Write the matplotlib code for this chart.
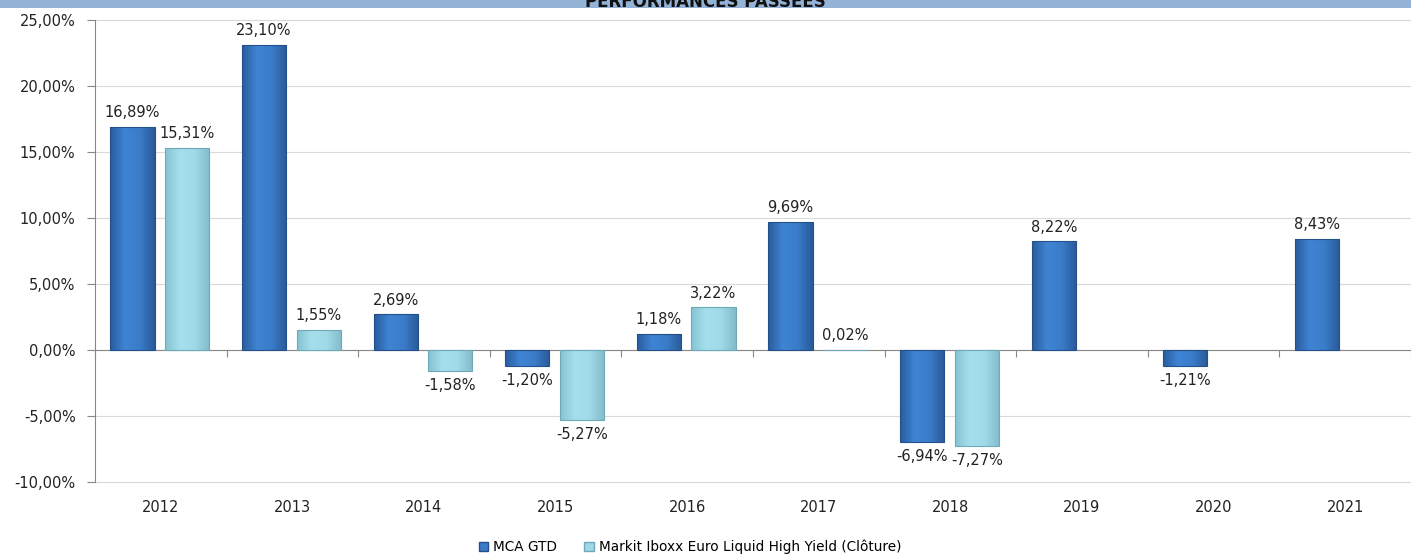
import numpy as np
import matplotlib
matplotlib.use('Agg')
from matplotlib import pyplot as plt
from matplotlib.patches import Rectangle
from matplotlib.colors import LinearSegmentedColormap

# data
years = ['2012', '2013', '2014', '2015', '2016', '2017', '2018', '2019', '2020', '2021']
mca = [16.89, 23.10, 2.69, -1.20, 1.18, 9.69, -6.94, 8.22, -1.21, 8.43]
markit = [15.31, 1.55, -1.58, -5.27, 3.22, 0.02, -7.27, np.nan, np.nan, np.nan]
series_names = ['MCA GTD', 'Markit Iboxx Euro Liquid High Yield (Clôture)']

plt.rcParams['font.family'] = ['DejaVu Sans']

def fmt(v):
    return f'{v:.2f}'.replace('.', ',') + '%'

def shade_bars(ax, bars, colors):
    # horizontal gradient inside each bar, Excel-ish bevel look
    cmap = LinearSegmentedColormap.from_list('g', colors)
    grad = np.linspace(0, 1, 64).reshape(1, -1)
    for b in bars:
        x, y = b.get_xy()
        w, h = b.get_width(), b.get_height()
        if np.isnan(h) or h == 0:
            continue
        im = ax.imshow(grad, cmap=cmap, aspect='auto', extent=(x, x + w, y, y + h),
                       zorder=b.get_zorder() - 0.1, interpolation='bicubic')
        im.set_clip_path(b)
        b.set_facecolor('none')

fig = plt.figure(figsize=(14.11, 5.56), dpi=100)
ax = fig.add_axes([95 / 1411, (556 - 482) / 556, (1411 - 95) / 1411, (482 - 20) / 556])

x = np.arange(len(years))
w = 0.335
b1 = ax.bar(x - 0.215, mca, w, color='#3b7bca', edgecolor='#23508a', linewidth=0.8, zorder=3)
b2 = ax.bar(x + 0.2, markit, w, color='#9ed8e6', edgecolor='#6fa9b8', linewidth=0.8, zorder=3)
shade_bars(ax, b1, ['#2a5c9e', '#3f84d4', '#3a7cc9', '#2a5a98'])
shade_bars(ax, b2, ['#86c3d3', '#a6dfec', '#a0dae8', '#82bccc'])

for bars, vals in ((b1, mca), (b2, markit)):
    for b, v in zip(bars, vals):
        if np.isnan(v):
            continue
        cx = b.get_x() + b.get_width() / 2
        if v >= 0:
            ax.annotate(fmt(v), (cx, v), xytext=(0, 5), textcoords='offset points',
                        ha='center', va='bottom', fontsize=10.5, color='#222222')
        else:
            ax.annotate(fmt(v), (cx, v), xytext=(0, -5), textcoords='offset points',
                        ha='center', va='top', fontsize=10.5, color='#222222')

ax.set_xlim(-0.5, len(years) - 0.5)
ax.set_ylim(-10, 25)
ax.set_yticks(np.arange(-10, 26, 5))
ax.set_yticklabels([fmt(v) for v in np.arange(-10, 26, 5)], fontsize=10.5, color='#222222')
ax.yaxis.grid(True, color='#d9d9d9', linewidth=0.8, zorder=0)
for gl in ax.get_ygridlines():
    gl.set_clip_on(False)
ax.set_axisbelow(True)

for s in ('top', 'right'):
    ax.spines[s].set_visible(False)
ax.spines['left'].set_color('#888888')
ax.spines['bottom'].set_position(('data', 0))
ax.spines['bottom'].set_color('#888888')
ax.tick_params(axis='y', direction='out', length=6, color='#888888', pad=8)

# boundary ticks on the zero line, year labels at the bottom
ax.set_xticks(np.arange(len(years) + 1) - 0.5)
ax.set_xticklabels([])
ax.tick_params(axis='x', direction='out', length=5, color='#888888')
sec = ax.secondary_xaxis(0)
sec.set_xticks(x)
sec.set_xticklabels(years, fontsize=10.5, color='#222222')
sec.tick_params(length=0, pad=13)
sec.spines['bottom'].set_visible(False)

# legend
h1 = Rectangle((0, 0), 1, 1, facecolor='#3b7bca', edgecolor='#23508a')
h2 = Rectangle((0, 0), 1, 1, facecolor='#9ed8e6', edgecolor='#6fa9b8')
fig.legend([h1, h2], series_names, loc='center', bbox_to_anchor=(690 / 1411, 1 - 547 / 556),
           ncol=2, frameon=False, fontsize=9.8, handlelength=0.7, handleheight=0.7,
           handletextpad=0.35, columnspacing=2.0)

# title band cut at the top
fig.patches.append(Rectangle((0, 1 - 8 / 556), 1, 8 / 556, transform=fig.transFigure,
                             facecolor='#95b3d7', edgecolor='none', zorder=0))
fig.text(0.5, 1 - 7 / 556, 'PERFORMANCES PASSÉES', ha='center', va='baseline',
         fontsize=12, fontweight='bold', color='#111111')

plt.savefig('out.png', dpi=100)
